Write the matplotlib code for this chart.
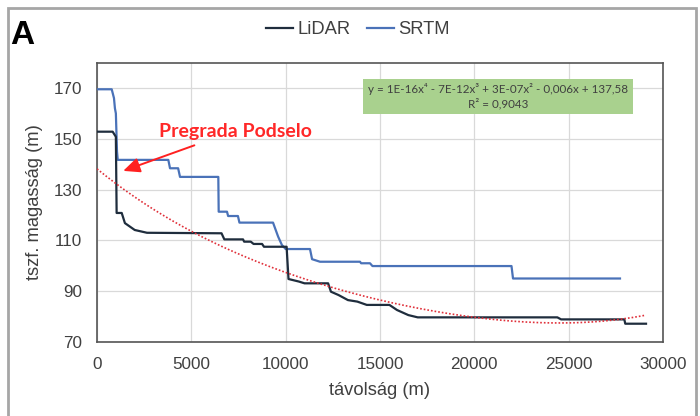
import numpy as np
import matplotlib
matplotlib.use("Agg")
import matplotlib.pyplot as plt
from matplotlib.patches import Rectangle

# ---- data ----
lidar_x = [0, 830, 1000, 1040, 1310, 1480, 1750, 2000, 2650, 6600, 6750, 7740, 7800, 8150, 8300,
           8750, 8850, 10050, 10150, 10700, 11000, 12250, 12400, 12800, 13300, 13800, 14300,
           15500, 15900, 16500, 17000, 24400, 24600, 27950, 28000, 29100]
lidar_y = [152.8, 152.8, 150.8, 120.8, 120.8, 116.8, 115.4, 114.1, 113.0, 112.8, 110.4, 110.4,
           109.5, 109.5, 108.6, 108.6, 107.5, 107.5, 94.8, 93.8, 93.1, 93.1, 89.8, 88.5, 86.5,
           85.9, 84.6, 84.6, 82.6, 80.6, 79.7, 79.7, 78.9, 78.9, 77.2, 77.2]

srtm_x = [0, 780, 900, 950, 1000, 1060, 1100, 3780, 3870, 4300, 4400, 6430, 6450, 6890, 6950,
          7470, 7550, 9330, 9600, 9800, 10000, 11290, 11400, 11820, 13940, 14000, 14470,
          14600, 21970, 22050, 27720]
srtm_y = [169.5, 169.5, 166.0, 162.0, 160.0, 145.0, 141.7, 141.7, 138.4, 138.4, 135.0, 135.0,
          121.3, 121.3, 119.6, 119.6, 117.0, 117.0, 111.5, 108.2, 106.6, 106.6, 102.6, 101.6,
          101.6, 101.0, 101.0, 99.9, 99.9, 95.0, 95.0]

x_ticks = [0, 5000, 10000, 15000, 20000, 25000, 30000]
y_ticks = [70, 90, 110, 130, 150, 170]
equation_text = "y = 1E-16x\u2074 - 7E-12x\u00b3 + 3E-07x\u00b2 - 0,006x + 137,58\nR\u00b2 = 0,9043"
annot_text = "Pregrada Podselo"

# ---- figure ----
plt.rcParams['font.family'] = ['Liberation Sans', 'DejaVu Sans']
fig = plt.figure(figsize=(7.0, 4.16), dpi=100)
ax = fig.add_axes([97/700, 1-342/416, (663-97)/700, (342-62.6)/416])

# figure frame
fig.patches.append(Rectangle((8/700, -0.02), (696-8)/700, 1-8/416+0.02, transform=fig.transFigure,
                             fill=False, edgecolor='#a6a6a6', linewidth=2.0))

# polynomial trendline (order 4) of LiDAR, as the spreadsheet computes it
xs = np.linspace(0, lidar_x[-1], 600)
ys_l = np.interp(xs, lidar_x, lidar_y)
coef = np.polyfit(xs, ys_l, 4)
trend = np.polyval(coef, xs)

ax.plot(srtm_x, srtm_y, color='#4a72b8', lw=1.6, label='SRTM', zorder=3)
ax.plot(lidar_x, lidar_y, color='#1f2d3d', lw=1.6, label='LiDAR', zorder=4)
ax.plot(xs, trend, color='#e0303a', lw=1.2, ls=(0, (1, 1.2)), zorder=5)

ax.set_xlim(0, 30000)
ax.set_ylim(70, 180)
ax.set_xticks(x_ticks)
ax.set_yticks(y_ticks)
ax.grid(True, color='#d9d9d9', lw=0.9)
ax.set_axisbelow(True)
for s in ax.spines.values():
    s.set_color('#555555')
    s.set_linewidth(1.2)
ax.tick_params(length=0, labelsize=12.3, colors='#404040', pad=10.5)
ax.set_xlabel('távolság (m)', fontsize=13.2, color='#404040', labelpad=7.5)
ax.set_ylabel('tszf. magasság (m)', fontsize=13.2, color='#404040', labelpad=8)

# legend (LiDAR first)
h, l = ax.get_legend_handles_labels()
order = [1, 0]
fig.legend([h[i] for i in order], [l[i] for i in order], loc='center', bbox_to_anchor=(0.511, 0.928),
           ncol=2, frameon=False, fontsize=13.2, handlelength=1.5, handletextpad=0.2,
           columnspacing=0.9, labelcolor='#404040')

# panel letter
fig.text(10/700, 1-35/416, 'A', fontsize=24, fontweight='bold', va='center', ha='left')

# equation box
ax.text(0.709, 0.879, equation_text, transform=ax.transAxes, ha='center', va='center',
        fontsize=8.4, color='#404040', family=['Lato', 'DejaVu Sans'], linespacing=1.25,
        bbox=dict(boxstyle='square,pad=0.42', facecolor='#a9d18e', edgecolor='none'))

# annotation
ax.annotate('', xy=(1250, 137.0), xytext=(5300, 147.8),
            arrowprops=dict(arrowstyle='-|>,head_length=1.0,head_width=0.45', color='#ff2020', lw=1.4),
            zorder=6)
ax.text(7350, 152.7, annot_text, color='#ff2828', fontsize=14, fontweight='bold',
        family=['Lato', 'DejaVu Sans'], ha='center', va='center', zorder=6)

fig.savefig('out.png', dpi=100)
